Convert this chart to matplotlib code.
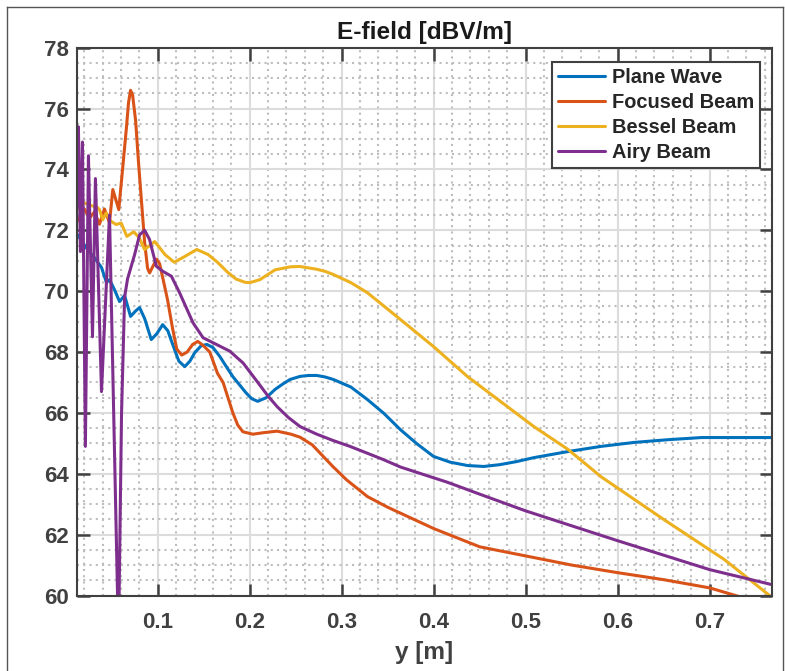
import matplotlib
matplotlib.use("Agg")
import matplotlib.pyplot as plt
from matplotlib.lines import Line2D
from matplotlib.ticker import MultipleLocator

plt.rcParams['font.family'] = ['Liberation Sans', 'DejaVu Sans']
plt.rcParams['font.weight'] = 'bold'

# distance along y [m] and field level [dBV/m] for each beam
y_plane = [0.0127, 0.0236, 0.0312, 0.0389, 0.0443, 0.0476, 0.0530, 0.0585, 0.0640, 0.0705,
           0.0760, 0.0803, 0.0858, 0.0930, 0.0990, 0.1054, 0.1110, 0.1163, 0.1230, 0.1294,
           0.1350, 0.1403, 0.1470, 0.1534, 0.1600, 0.1676, 0.1750, 0.1817, 0.1890, 0.1960,
           0.2020, 0.2087, 0.2180, 0.2275, 0.2360, 0.2440, 0.2548, 0.2640, 0.2730, 0.2820,
           0.2908, 0.3100, 0.3279, 0.3460, 0.3638, 0.3820, 0.3998, 0.4180, 0.4369, 0.4544,
           0.4720, 0.4900, 0.5089, 0.5460, 0.5820, 0.6180, 0.6550, 0.6910, 0.7672]
e_plane = [71.86, 71.37, 71.10, 70.78, 70.28, 70.38, 70.05, 69.66, 69.86, 69.17,
           69.35, 69.46, 69.10, 68.41, 68.60, 68.90, 68.70, 68.25, 67.70, 67.52,
           67.70, 67.98, 68.20, 68.25, 68.15, 67.85, 67.50, 67.19, 66.92, 66.66,
           66.47, 66.38, 66.50, 66.77, 66.95, 67.10, 67.20, 67.23, 67.23, 67.18,
           67.10, 66.85, 66.44, 65.98, 65.45, 64.98, 64.57, 64.38, 64.27, 64.24,
           64.30, 64.40, 64.53, 64.73, 64.90, 65.03, 65.12, 65.19, 65.19]

y_focused = [0.0127, 0.0203, 0.0258, 0.0312, 0.0367, 0.0421, 0.0476, 0.0512, 0.0577, 0.0596,
             0.0618, 0.0661, 0.0683, 0.0705, 0.0727, 0.0760, 0.0792, 0.0825, 0.0858, 0.0890,
             0.0912, 0.0945, 0.0988, 0.1021, 0.1065, 0.1108, 0.1160, 0.1207, 0.1261, 0.1320,
             0.1380, 0.1436, 0.1500, 0.1566, 0.1650, 0.1711, 0.1817, 0.1870, 0.1926, 0.2035,
             0.2150, 0.2297, 0.2450, 0.2548, 0.2680, 0.2900, 0.3053, 0.3280, 0.3500, 0.3750,
             0.4000, 0.4250, 0.4500, 0.4750, 0.5000, 0.5500, 0.6000, 0.6500, 0.7000, 0.7450]
e_focused = [72.30, 72.70, 72.40, 72.60, 72.20, 72.70, 72.25, 73.34, 72.68, 73.30,
             74.00, 75.40, 76.20, 76.60, 76.45, 75.60, 74.20, 72.90, 71.60, 70.75,
             70.60, 70.80, 71.05, 70.90, 70.30, 69.70, 68.80, 68.10, 67.90, 68.00,
             68.25, 68.35, 68.20, 68.00, 67.30, 67.00, 66.00, 65.60, 65.38, 65.30,
             65.35, 65.40, 65.30, 65.20, 64.95, 64.25, 63.80, 63.25, 62.90, 62.55,
             62.20, 61.90, 61.60, 61.45, 61.30, 61.00, 60.75, 60.52, 60.25, 59.85]

y_bessel = [0.0127, 0.0200, 0.0291, 0.0345, 0.0367, 0.0403, 0.0440, 0.0490, 0.0548, 0.0603,
            0.0665, 0.0740, 0.0800, 0.0857, 0.0967, 0.1080, 0.1180, 0.1300, 0.1425, 0.1550,
            0.1650, 0.1750, 0.1850, 0.1950, 0.2003, 0.2112, 0.2275, 0.2440, 0.2548, 0.2730,
            0.2820, 0.2908, 0.3100, 0.3279, 0.3638, 0.3998, 0.4369, 0.4729, 0.5089, 0.5460,
            0.5820, 0.6500, 0.7160, 0.7672]
e_bessel = [72.70, 72.90, 72.80, 72.75, 72.68, 72.35, 72.57, 72.30, 72.19, 72.24,
            71.80, 71.95, 71.75, 71.37, 71.63, 71.20, 70.95, 71.15, 71.37, 71.20,
            70.95, 70.65, 70.40, 70.29, 70.28, 70.38, 70.70, 70.80, 70.81, 70.72,
            70.65, 70.55, 70.28, 69.95, 69.07, 68.18, 67.19, 66.37, 65.55, 64.80,
            63.90, 62.50, 61.18, 59.95]

y_airy = [0.0127, 0.0138, 0.0160, 0.0182, 0.0214, 0.0247, 0.0291, 0.0323, 0.0389, 0.0476,
          0.0574, 0.0607, 0.0640, 0.0672, 0.0749, 0.0803, 0.0858, 0.0911, 0.0985, 0.1057,
          0.1149, 0.1239, 0.1384, 0.1493, 0.1638, 0.1783, 0.1928, 0.2091, 0.2200, 0.2300,
          0.2420, 0.2548, 0.2730, 0.2900, 0.3090, 0.3450, 0.3640, 0.4150, 0.4500, 0.5000,
          0.6000, 0.7000, 0.7672]
e_airy = [72.80, 75.40, 71.30, 74.90, 64.90, 74.45, 68.50, 73.70, 66.70, 72.50,
          58.50, 66.00, 69.80, 70.40, 71.20, 71.85, 72.00, 71.70, 70.82, 70.65,
          70.49, 69.94, 68.96, 68.47, 68.25, 68.03, 67.64, 66.99, 66.55, 66.20,
          65.85, 65.55, 65.30, 65.10, 64.90, 64.47, 64.22, 63.72, 63.33, 62.78,
          61.80, 60.85, 60.36]

series = [
    ("Plane Wave", y_plane, e_plane, "#0072BD"),
    ("Focused Beam", y_focused, e_focused, "#D95319"),
    ("Bessel Beam", y_bessel, e_bessel, "#EDB120"),
    ("Airy Beam", y_airy, e_airy, "#7E2F8E"),
]

W, H = 785, 671
fig = plt.figure(figsize=(W / 100, H / 100), dpi=100)
ax = fig.add_axes([77.3 / W, (H - 595.5) / H, (771.5 - 77.3) / W, (595.5 - 47.7) / H])

for name, yy, ee, col in series:
    ax.plot(yy, ee, color=col, lw=2.2, label=name,
            solid_joinstyle='round', solid_capstyle='round')

ax.set_xlim(0.0126, 0.7672)
ax.set_ylim(60, 78)
ax.xaxis.set_major_locator(MultipleLocator(0.1))
ax.xaxis.set_minor_locator(MultipleLocator(0.02))
ax.yaxis.set_major_locator(MultipleLocator(2))
ax.yaxis.set_minor_locator(MultipleLocator(0.5))

ax.set_axisbelow(True)
ax.grid(which='major', color='#dcdcdc', lw=1.5, ls='-')
ax.grid(which='minor', color='#bdbdbd', lw=1.5, ls=(0, (1, 2)))

dark = '#404040'
ax.tick_params(which='major', direction='in', length=9, width=1.8, top=True, right=True,
               color=dark, labelcolor=dark, labelsize=16)
ax.tick_params(which='minor', length=0)
ax.tick_params(axis='x', pad=12)
ax.tick_params(axis='y', pad=6)
for sp in ax.spines.values():
    sp.set_color(dark)
    sp.set_linewidth(1.5)

ax.set_title("E-field [dBV/m]", fontsize=17.6, fontweight='bold', color='#1a1a1a', pad=6)
ax.set_xlabel("y [m]", fontsize=17.6, fontweight='bold', color=dark, labelpad=6)

leg = ax.legend(loc='upper right', bbox_to_anchor=(0.9834, 0.9745), borderaxespad=0,
                fancybox=False, framealpha=1, edgecolor=dark,
                prop={'size': 14.4, 'weight': 'bold'},
                handlelength=2.35, handletextpad=0.35, labelspacing=0.3, borderpad=0.3)
leg.get_frame().set_linewidth(1.5)
for t in leg.get_texts():
    t.set_color('#262626')

# thin outline round the figure
bx0, by0, bx1 = 7.3 / W, 1 - 7.3 / H, 782.5 / W
for xs, ys in [([bx0, bx0], [0, by0]), ([bx0, bx1], [by0, by0]), ([bx1, bx1], [by0, 0])]:
    fig.add_artist(Line2D(xs, ys, color='#555555', lw=1.0))

fig.savefig("out.png", dpi=100)
